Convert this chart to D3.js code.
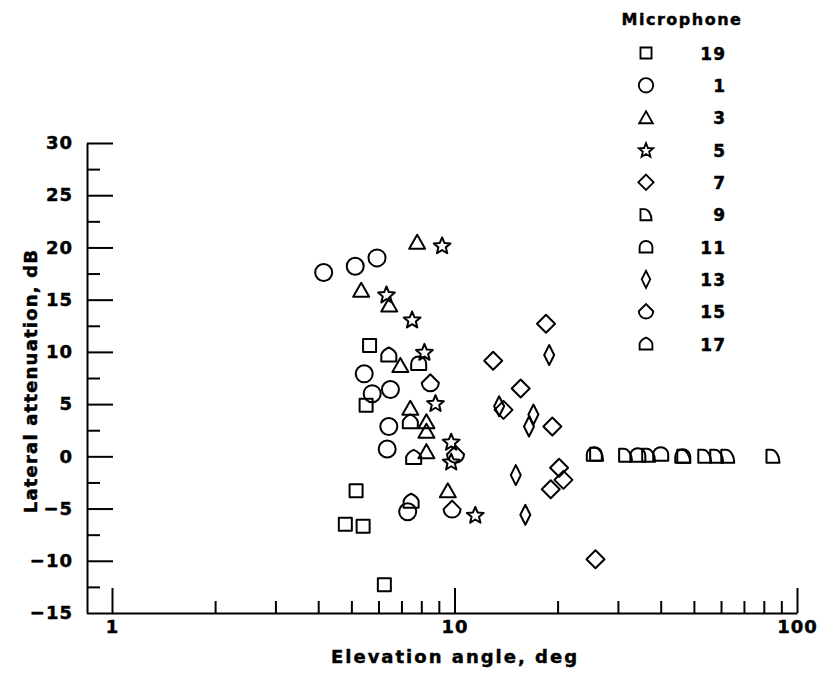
<!DOCTYPE html>
<html>
<head>
<meta charset="utf-8">
<script src="https://cdn.jsdelivr.net/npm/d3@7"></script>
<style>
  body { margin: 0; background: #fff; }
  svg text { font-family: "DejaVu Sans", "Liberation Sans", sans-serif; font-weight: bold; fill: #000; stroke: #000; stroke-width: 0.45px; }
</style>
</head>
<body>
<svg id="chart" width="822" height="675"></svg>
<script>
// Legend order of the microphones
const microphones = ["19", "1", "3", "5", "7", "9", "11", "13", "15", "17"];

// Elevation angle (deg) and lateral attenuation (dB) for each microphone
const mic19Angle = [5.65, 5.52, 5.16, 4.80, 5.41, 6.24];
const mic19Atten = [10.6, 4.9, -3.3, -6.5, -6.7, -12.3];

const mic1Angle = [4.15, 5.13, 5.94, 5.45, 6.50, 5.75, 6.43, 6.36, 7.30];
const mic1Atten = [17.6, 18.2, 19.0, 7.9, 6.4, 6.0, 2.85, 0.7, -5.3];

const mic3Angle = [7.78, 5.34, 6.45, 6.95, 7.43, 8.28, 8.28, 8.28, 9.56];
const mic3Atten = [20.5, 15.9, 14.5, 8.7, 4.6, 3.3, 2.4, 0.45, -3.3];

const mic5Angle = [9.2, 6.33, 7.52, 8.17, 8.80, 9.78, 9.78, 11.5];
const mic5Atten = [20.2, 15.5, 13.1, 10.0, 5.1, 1.4, -0.5, -5.6];

const mic7Angle = [18.5, 12.97, 15.6, 13.9, 19.3, 20.2, 20.8, 19.1, 25.8];
const mic7Atten = [12.7, 9.15, 6.5, 4.45, 2.85, -1.1, -2.25, -3.15, -9.85];

const mic9Angle = [26.0, 31.6, 36.9, 46.7, 53.8, 58.3, 62.8, 85.1];
const mic9Atten = [0.2, 0.1, 0.1, 0.0, 0.0, 0.0, 0.0, 0.0];

const mic11Angle = [7.86, 25.6, 34.3, 40.0, 46.4];
const mic11Atten = [8.9, 0.2, 0.1, 0.2, 0.0];

const mic13Angle = [18.9, 13.5, 17.0, 16.5, 15.1, 16.1];
const mic13Atten = [9.7, 4.8, 4.0, 2.85, -1.8, -5.6];

const mic15Angle = [8.5, 10.07, 9.84];
const mic15Atten = [7.0, 0.15, -5.1];

const mic17Angle = [6.43, 7.43, 7.6, 7.47];
const mic17Atten = [9.7, 3.3, -0.1, -4.3];

// Axis ticks
const xMajorTicks = [1, 10, 100];
const xMinorTicks = [2, 3, 4, 5, 6, 7, 8, 9, 20, 30, 40, 50, 60, 70, 80, 90];
const yMajorTicks = [-15, -10, -5, 0, 5, 10, 15, 20, 25, 30];
const yMinorTicks = [-12.5, -7.5, -2.5, 2.5, 7.5, 12.5, 17.5, 22.5, 27.5];

const series = [
  { mic: "19", shape: "square",  angle: mic19Angle, atten: mic19Atten },
  { mic: "1",  shape: "circle",  angle: mic1Angle,  atten: mic1Atten },
  { mic: "3",  shape: "triangle", angle: mic3Angle, atten: mic3Atten },
  { mic: "5",  shape: "star",    angle: mic5Angle,  atten: mic5Atten },
  { mic: "7",  shape: "diamond", angle: mic7Angle,  atten: mic7Atten },
  { mic: "9",  shape: "quarter", angle: mic9Angle,  atten: mic9Atten },
  { mic: "11", shape: "dome",    angle: mic11Angle, atten: mic11Atten },
  { mic: "13", shape: "thin",    angle: mic13Angle, atten: mic13Atten },
  { mic: "15", shape: "shield",  angle: mic15Angle, atten: mic15Atten },
  { mic: "17", shape: "house",   angle: mic17Angle, atten: mic17Atten }
];

// Outline symbols, centred on the origin
function starPath(R, r) {
  const pts = [];
  for (let i = 0; i < 10; i++) {
    const a = -Math.PI / 2 + i * Math.PI / 5;
    const rad = i % 2 === 0 ? R : r;
    pts.push([rad * Math.cos(a), rad * Math.sin(a) + 0.8]);
  }
  return "M" + pts.map(p => p[0].toFixed(2) + "," + p[1].toFixed(2)).join("L") + "Z";
}
const shapes = {
  square:   "M-6.5,-6.5H6.5V6.5H-6.5Z",
  circle:   "M8.5,0A8.5,8.5 0 1 1 -8.5,0A8.5,8.5 0 1 1 8.5,0Z",
  triangle: "M0,-7.5L8,6.5H-8Z",
  star:     starPath(8.8, 3.9),
  diamond:  "M0,-9L9,0L0,9L-9,0Z",
  quarter:  "M-6.5,6.5V-6.5H-2A8.5,13 0 0 1 6.5,6.5Z",
  dome:     "M-7.5,6.5V0A7.5,7 0 0 1 7.5,0V6.5Z",
  thin:     "M0,-10L5,0L0,10L-5,0Z",
  shield:   "M-8.5,-0.5L0,-9L8.5,-0.5A8.5,8.5 0 0 1 -8.5,-0.5Z",
  house:    "M-7.5,6.5V-0.5Q-6,-5 0,-7.5Q6,-5 7.5,-0.5V6.5Z"
};

const svg = d3.select("#chart");

const x = d3.scaleLog().domain([1, 100]).range([112, 797]);
const y = d3.scaleLinear().domain([-15, 30]).range([613, 143]);

// Y axis: ticks point into the plot, labels on the left
const yAxisX = 87;
svg.append("g").attr("transform", `translate(${yAxisX},0)`)
  .call(d3.axisLeft(y).tickValues(yMajorTicks).tickSizeInner(-26).tickSizeOuter(0)
        .tickPadding(14).tickFormat(d3.format("d")));
svg.append("g").attr("transform", `translate(${yAxisX},0)`)
  .call(d3.axisLeft(y).tickValues(yMinorTicks).tickSizeInner(-13).tickSizeOuter(0).tickFormat(""))
  .select(".domain").remove();

// X axis: log scale, ticks point upward
const xAxisY = 613;
svg.append("g").attr("transform", `translate(0,${xAxisY})`)
  .call(d3.axisBottom(x).tickValues(xMajorTicks).tickSizeInner(-25).tickSizeOuter(0)
        .tickPadding(7).tickFormat(d3.format("d")));
svg.append("g").attr("transform", `translate(0,${xAxisY})`)
  .call(d3.axisBottom(x).tickValues(xMinorTicks).tickSizeInner(-12).tickSizeOuter(0).tickFormat(""))
  .select(".domain").remove();

svg.selectAll(".domain, .tick line").attr("stroke", "#000").attr("stroke-width", 2);
svg.selectAll(".tick text").attr("font-size", 18).style("letter-spacing", "1px");

// Axis titles
svg.append("text")
  .attr("x", 455).attr("y", 663)
  .attr("text-anchor", "middle")
  .attr("font-size", 18).style("letter-spacing", "2px")
  .text("Elevation angle, deg");

svg.append("text")
  .attr("transform", "translate(37,381) rotate(-90)")
  .attr("text-anchor", "middle")
  .attr("font-size", 18).style("letter-spacing", "1.2px")
  .text("Lateral attenuation, dB");

// Data points
const plot = svg.append("g").attr("fill", "none").attr("stroke", "#000").attr("stroke-width", 2)
  .attr("stroke-linejoin", "round");
series.forEach(s => {
  const pts = s.angle.map((a, i) => ({ a, v: s.atten[i] }));
  plot.selectAll(null).data(pts).join("path")
    .attr("d", shapes[s.shape])
    .attr("transform", d => `translate(${x(d.a)},${y(d.v)})`);
});

// Legend
const legend = svg.append("g");
legend.append("text")
  .attr("x", 682).attr("y", 25)
  .attr("text-anchor", "middle")
  .attr("font-size", 16).style("letter-spacing", "1.5px")
  .text("Microphone");
const rowY = d3.scalePoint().domain(microphones).range([53, 344]);
const rows = legend.selectAll("g.row").data(series).join("g")
  .attr("class", "row")
  .attr("transform", d => `translate(0,${rowY(d.mic)})`);
rows.append("path")
  .attr("d", d => shapes[d.shape])
  .attr("transform", "translate(646,0) scale(0.85)")
  .attr("fill", "none").attr("stroke", "#000").attr("stroke-width", 2.2);
rows.append("text")
  .attr("x", 726).attr("y", 6.5)
  .attr("text-anchor", "end")
  .attr("font-size", 17).style("letter-spacing", "1px")
  .text(d => d.mic);
</script>
</body>
</html>
